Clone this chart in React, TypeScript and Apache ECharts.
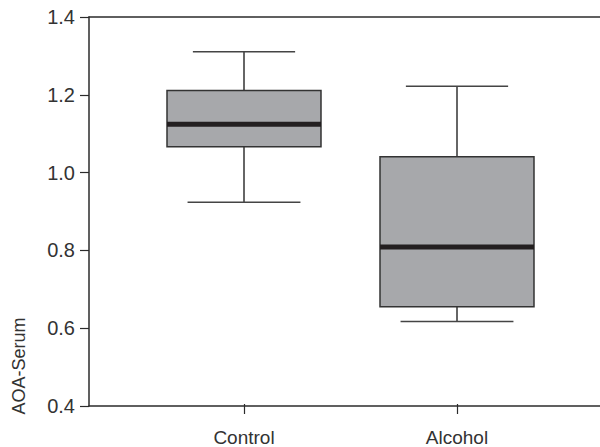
import React, { useEffect, useRef } from "react";
import * as echarts from "echarts";

const categories = ["Control", "Alcohol"];
const whiskerLow = [0.921, 0.613];
const quartile1 = [1.065, 0.651];
const medians = [1.123, 0.806];
const quartile3 = [1.21, 1.039];
const whiskerHigh = [1.31, 1.221];
const yTicks = { min: 0.4, max: 1.4, interval: 0.2 };
const yName = "AOA-Serum";

const FONT = "'Liberation Sans', Arial, sans-serif";
const DARK = "#2b2b2b";

export default function App() {
  const ref = useRef<HTMLDivElement>(null);
  useEffect(() => {
    if (!ref.current) return;
    const chart = echarts.init(ref.current, null, { renderer: "svg" });
    const data = categories.map((_, i) => [
      i,
      whiskerLow[i],
      quartile1[i],
      medians[i],
      quartile3[i],
      whiskerHigh[i],
    ]);
    const option: any = {
      animation: false,
      backgroundColor: "#ffffff",
      grid: [
        { left: 89, right: 0, top: 17, bottom: 41 },
        { left: 137.5, right: 36.5, top: 17, bottom: 41 },
      ],
      xAxis: [
        {
          gridIndex: 0,
          type: "value",
          min: 0,
          max: 1,
          position: "bottom",
          axisLine: { show: true, lineStyle: { color: DARK, width: 1.5 } },
          axisTick: { show: false },
          axisLabel: { show: false },
          splitLine: { show: false },
        },
        {
          gridIndex: 0,
          type: "value",
          min: 0,
          max: 1,
          position: "top",
          axisLine: { show: true, lineStyle: { color: DARK, width: 1.5 } },
          axisTick: { show: false },
          axisLabel: { show: false },
          splitLine: { show: false },
        },
        {
          gridIndex: 1,
          type: "category",
          data: categories,
          position: "bottom",
          axisLine: { show: false },
          axisTick: {
            show: true,
            alignWithLabel: true,
            length: 10,
            lineStyle: { color: DARK, width: 1.2 },
          },
          axisLabel: {
            show: true,
            margin: 24,
            color: "#333",
            fontSize: 19,
            fontFamily: FONT,
          },
          splitLine: { show: false },
        },
      ],
      yAxis: [
        {
          gridIndex: 0,
          type: "value",
          min: yTicks.min,
          max: yTicks.max,
          interval: yTicks.interval,
          axisLine: { show: true, lineStyle: { color: DARK, width: 1.5 } },
          axisTick: {
            show: true,
            length: 9,
            lineStyle: { color: DARK, width: 1.2 },
          },
          axisLabel: {
            show: true,
            margin: 14,
            color: "#333",
            fontSize: 20,
            fontFamily: FONT,
            formatter: (v: number) => v.toFixed(1),
          },
          splitLine: { show: false },
        },
        {
          gridIndex: 1,
          type: "value",
          min: yTicks.min,
          max: yTicks.max,
          interval: yTicks.interval,
          show: false,
          splitLine: { show: false },
        },
      ],
      graphic: [
        {
          type: "text",
          x: 19,
          y: 366,
          rotation: Math.PI / 2,
          style: {
            text: yName,
            font: `18px ${FONT}`,
            fill: "#333",
            textAlign: "center",
            textVerticalAlign: "middle",
          },
        },
      ],
      series: [
        {
          type: "custom",
          xAxisIndex: 2,
          yAxisIndex: 1,
          data,
          encode: { x: 0, y: [1, 2, 3, 4, 5] },
          renderItem: (params: any, api: any) => {
            const x = api.value(0);
            const low = api.coord([x, api.value(1)]);
            const q1 = api.coord([x, api.value(2)]);
            const med = api.coord([x, api.value(3)]);
            const q3 = api.coord([x, api.value(4)]);
            const high = api.coord([x, api.value(5)]);
            const band = api.size([1, 0])[0];
            const cx = q1[0];
            const bw = band * 0.723;
            const capTop = band * 0.48;
            const capBottom = band * 0.53;
            const lineStyle = { stroke: "#333", lineWidth: 1.5 };
            return {
              type: "group",
              children: [
                {
                  type: "line",
                  shape: { x1: cx, y1: high[1], x2: cx, y2: q3[1] },
                  style: lineStyle,
                },
                {
                  type: "line",
                  shape: { x1: cx, y1: q1[1], x2: cx, y2: low[1] },
                  style: lineStyle,
                },
                {
                  type: "line",
                  shape: {
                    x1: cx - capTop / 2,
                    y1: high[1],
                    x2: cx + capTop / 2,
                    y2: high[1],
                  },
                  style: { stroke: "#444", lineWidth: 1.5 },
                },
                {
                  type: "line",
                  shape: {
                    x1: cx - capBottom / 2,
                    y1: low[1],
                    x2: cx + capBottom / 2,
                    y2: low[1],
                  },
                  style: { stroke: "#444", lineWidth: 1.5 },
                },
                {
                  type: "rect",
                  shape: {
                    x: cx - bw / 2,
                    y: q3[1],
                    width: bw,
                    height: q1[1] - q3[1],
                  },
                  style: { fill: "#a7a8ab", stroke: "#333", lineWidth: 1.5 },
                },
                {
                  type: "line",
                  shape: {
                    x1: cx - bw / 2,
                    y1: med[1],
                    x2: cx + bw / 2,
                    y2: med[1],
                  },
                  style: { stroke: "#231f20", lineWidth: 5 },
                },
              ],
            };
          },
        },
      ],
    };
    chart.setOption(option);
    return () => chart.dispose();
  }, []);
  return (
    <div
      ref={ref}
      style={{ position: "fixed", left: 0, top: 0, width: 600, height: 447 }}
    />
  );
}
